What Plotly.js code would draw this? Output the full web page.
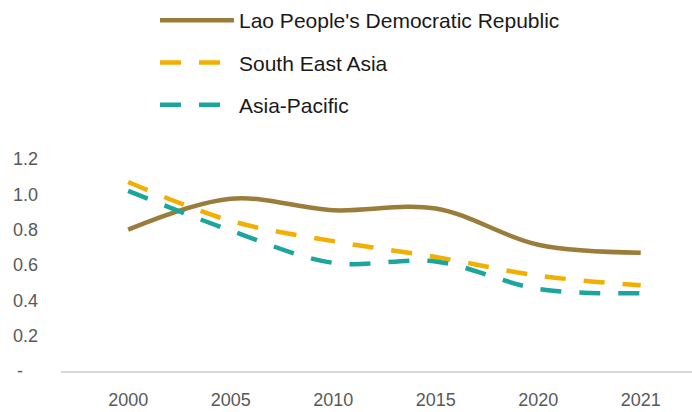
<!DOCTYPE html>
<html>
<head>
<meta charset="utf-8">
<script src="https://cdn.plot.ly/plotly-3.0.1.min.js"></script>
<style>html,body{margin:0;padding:0;background:#fff;}#chart{width:692px;height:412px;}</style>
</head>
<body>
<div id="chart"></div>
<script>
const years = ["2000", "2005", "2010", "2015", "2020", "2021"];
const laoValues = [0.80, 0.975, 0.91, 0.92, 0.715, 0.67];
const seaValues = [1.07, 0.85, 0.735, 0.645, 0.54, 0.485];
const apValues = [1.02, 0.795, 0.612, 0.62, 0.465, 0.44];
const seriesNames = ["Lao People's Democratic Republic", "South East Asia", "Asia-Pacific"];
const yTickVals = [0, 0.2, 0.4, 0.6, 0.8, 1.0, 1.2];
const yTickText = ["-\u00a0\u00a0\u00a0", "0.2", "0.4", "0.6", "0.8", "1.0", "1.2"];

const colors = ["#9B7D3B", "#F2AF00", "#1BA59C"];
const dashes = ["solid", "21px,18px", "21px,18px"];
const allValues = [laoValues, seaValues, apValues];

const traces = allValues.map((vals, i) => ({
  type: "scatter",
  mode: "lines",
  x: years,
  y: vals,
  name: seriesNames[i],
  legendgroup: "g" + i,
  line: {color: colors[i], width: 4.5, dash: dashes[i], shape: "spline", smoothing: 1},
  hoverinfo: "x+y+name"
}));

const layout = {
  width: 692,
  height: 412,
  margin: {l: 61, r: 0, t: 159, b: 41, pad: 0, autoexpand: false},
  paper_bgcolor: "#ffffff",
  plot_bgcolor: "#ffffff",
  font: {family: "Liberation Sans, Arial, sans-serif", size: 18, color: "#595959"},
  showlegend: true,
  legend: {
    x: 155 / 692, xref: "container", xanchor: "left",
    y: 1 + 3 / 412, yref: "container", yanchor: "top",
    orientation: "v",
    font: {family: "Liberation Sans, Arial, sans-serif", size: 21, color: "#1a1a1a"},
    itemwidth: 74,
    tracegroupgap: 12,
    bgcolor: "rgba(0,0,0,0)"
  },
  xaxis: {
    type: "category",
    range: [-0.655, 5.5],
    showgrid: false,
    zeroline: false,
    showline: true,
    linecolor: "#d9d9d9",
    linewidth: 2,
    ticks: "",
    ticklabelstandoff: 11,
    tickfont: {size: 18, color: "#595959"},
    fixedrange: true
  },
  yaxis: {
    range: [0, 1.2],
    tickvals: yTickVals,
    ticktext: yTickText,
    showgrid: false,
    zeroline: false,
    showline: false,
    ticks: "",
    ticklabelstandoff: 22,
    tickfont: {size: 18, color: "#595959"},
    fixedrange: true
  }
};

Plotly.newPlot("chart", traces, layout, {displayModeBar: false, staticPlot: true});
</script>
</body>
</html>
